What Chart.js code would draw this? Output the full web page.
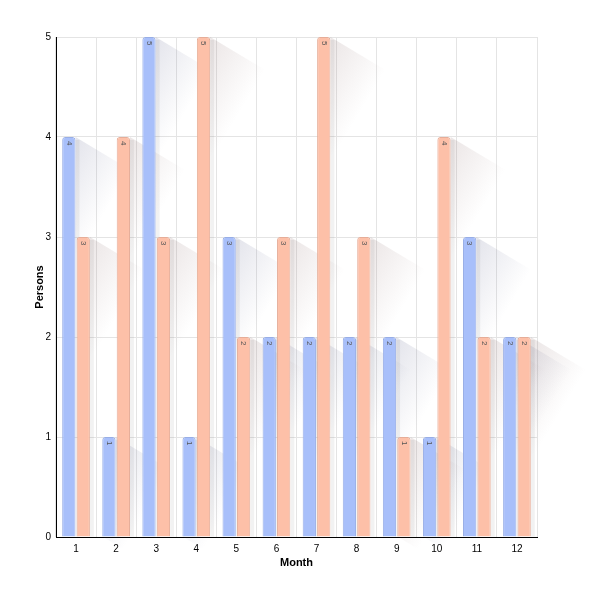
<!DOCTYPE html>
<html><head><meta charset="utf-8">
<script src="https://cdn.jsdelivr.net/npm/chart.js@4/dist/chart.umd.min.js"></script>
<style>html,body{margin:0;padding:0;background:#fff}</style>
</head><body>
<canvas id="c" width="605" height="601"></canvas>
<script>
const months = ['1','2','3','4','5','6','7','8','9','10','11','12'];
const seriesA = [4,1,5,1,3,2,2,2,2,1,3,2];
const seriesB = [3,4,3,5,2,3,5,3,1,4,2,2];
const yTicks = [0,1,2,3,4,5];

const shadowPlugin = {
  id: 'shadows',
  beforeDatasetsDraw(chart) {
    const ctx = chart.ctx;
    const dx = 55, dy = 33;
    const tints = ['80,85,130', '130,95,95'];
    chart.data.datasets.forEach((ds, di) => {
      chart.getDatasetMeta(di).data.forEach(bar => {
        const p = bar.getProps(['x','y','base','width'], true);
        const x0 = p.x - p.width/2, x1 = p.x + p.width/2;
        const yt = p.y, yb = p.base;
        const g = ctx.createLinearGradient(x1, yt, x1+dx, yt+dy);
        g.addColorStop(0, 'rgba(' + tints[di] + ',0.16)');
        g.addColorStop(1, 'rgba(' + tints[di] + ',0)');
        ctx.save();
        ctx.beginPath();
        ctx.moveTo(x1, yt);
        ctx.lineTo(x1+dx, yt+dy);
        ctx.lineTo(x1+dx, yb+dy);
        ctx.lineTo(x0+dx, yb+dy);
        ctx.lineTo(x0, yb);
        ctx.lineTo(x1, yb);
        ctx.closePath();
        ctx.fillStyle = g;
        ctx.fill();
        ctx.fillStyle = 'rgba(0,0,0,0.05)';
        ctx.fillRect(x1, yt + 3, 4, yb - yt - 3);
        ctx.restore();
      });
    });
  }
};

const labelPlugin = {
  id: 'barLabels',
  afterDatasetsDraw(chart) {
    const ctx = chart.ctx;
    chart.data.datasets.forEach((ds, di) => {
      chart.getDatasetMeta(di).data.forEach((bar, i) => {
        const p = bar.getProps(['x','y'], true);
        ctx.save();
        ctx.translate(p.x, p.y + 4);
        ctx.rotate(Math.PI/2);
        ctx.font = '8px "Liberation Sans", Arial, sans-serif';
        ctx.fillStyle = '#555';
        ctx.textAlign = 'left';
        ctx.textBaseline = 'middle';
        ctx.fillText(String(ds.data[i]), 0, 0);
        ctx.restore();
      });
    });
  }
};

new Chart(document.getElementById('c'), {
  type: 'bar',
  data: {
    labels: months,
    datasets: [
      { label: 'A', data: seriesA, backgroundColor: '#a8bffa', borderColor: '#98aee6', borderWidth: 1, borderSkipped: 'bottom', borderRadius: {topLeft: 3, topRight: 3}, categoryPercentage: 0.72, barPercentage: 0.92 },
      { label: 'B', data: seriesB, backgroundColor: '#fdc0a8', borderColor: '#e6ad98', borderWidth: 1, borderSkipped: 'bottom', borderRadius: {topLeft: 3, topRight: 3}, categoryPercentage: 0.72, barPercentage: 0.92 }
    ]
  },
  options: {
    responsive: false,
    animation: false,
    layout: { padding: { left: 33, top: 37, right: 68, bottom: 31 } },
    plugins: { legend: { display: false }, tooltip: { enabled: false } },
    scales: {
      x: {
        afterFit(scale) { scale.height = 33; },
        grid: { color: '#e4e4e4', drawTicks: false },
        border: { color: '#000', width: 1 },
        ticks: { color: '#000', font: { family: '"Liberation Sans", Arial', size: 10 }, padding: 6 },
        title: { display: true, text: 'Month', color: '#000', font: { family: '"Liberation Sans", Arial', size: 11, weight: 'bold' }, padding: { top: 2, bottom: 0 } }
      },
      y: {
        min: 0, max: 5,
        afterFit(scale) { scale.width = 23; },
        afterBuildTicks(scale) { scale.ticks = yTicks.map(v => ({ value: v })); },
        grid: { color: '#e4e4e4', drawTicks: false },
        border: { color: '#000', width: 1 },
        ticks: { color: '#000', font: { family: '"Liberation Sans", Arial', size: 10 }, padding: 5 },
        title: { display: true, text: 'Persons', color: '#000', font: { family: '"Liberation Sans", Arial', size: 11, weight: 'bold' }, padding: { top: 0, bottom: 0 } }
      }
    }
  },
  plugins: [shadowPlugin, labelPlugin]
});
</script>
</body></html>
